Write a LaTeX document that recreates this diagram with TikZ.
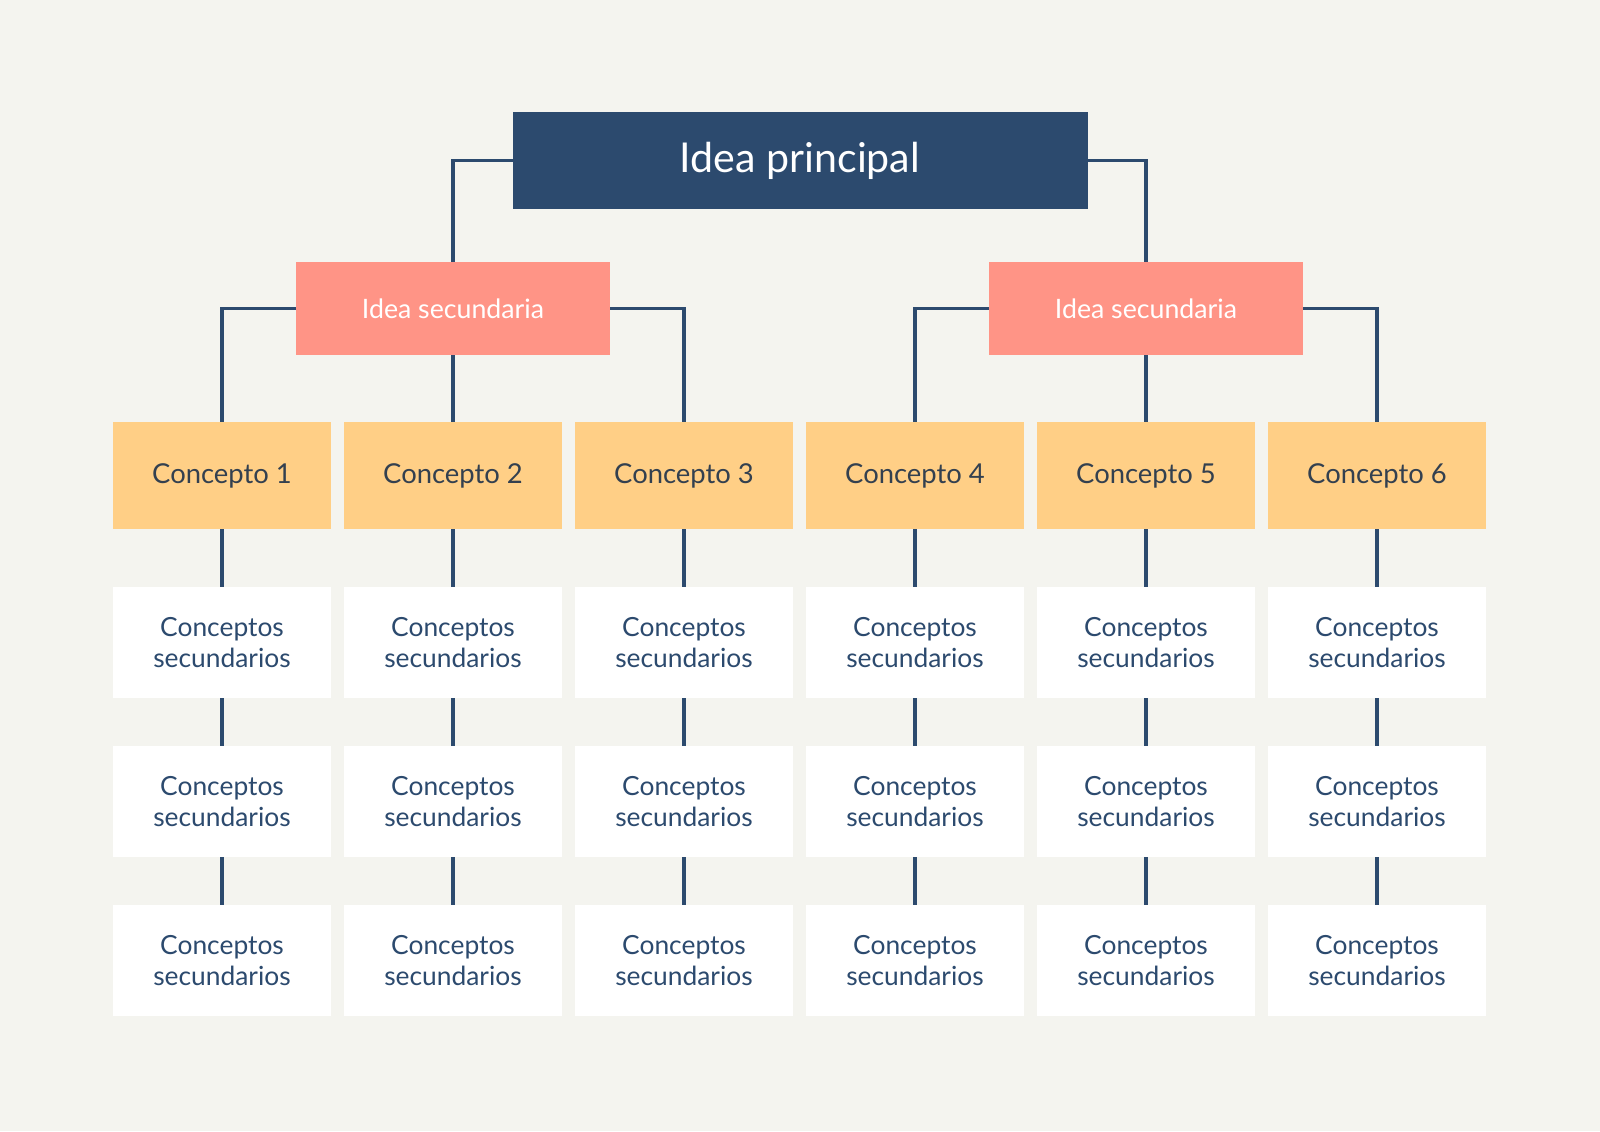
\documentclass[tikz,border=0pt]{standalone}
\usepackage{fontspec}
\setmainfont{Lato}
\usetikzlibrary{positioning}
\definecolor{fondo}{HTML}{F4F4EF}
\definecolor{marino}{HTML}{2C4A6E}
\definecolor{salmon}{HTML}{FF9486}
\definecolor{mostaza}{HTML}{FFCF86}
\definecolor{tinta}{HTML}{33404F}
\tikzstyle{principal} = [rectangle, minimum width=5.75cm, minimum height=0.97cm, inner sep=0pt, outer sep=0pt, fill=marino, text=white, font=\fontsize{11.7}{13}\selectfont]
\tikzstyle{idea} = [rectangle, minimum width=3.14cm, minimum height=0.93cm, inner sep=0pt, outer sep=0pt, fill=salmon, text=white, font=\fontsize{7.6}{9}\selectfont]
\tikzstyle{concepto} = [rectangle, minimum width=2.18cm, minimum height=1.07cm, inner sep=0pt, outer sep=0pt, fill=mostaza, text=tinta, font=\fontsize{7.8}{9}\selectfont]
\tikzstyle{secundario} = [rectangle, minimum width=2.18cm, minimum height=1.11cm, inner sep=0pt, outer sep=0pt, fill=white, text=marino, align=center, font=\fontsize{7.5}{8.8}\selectfont]
\tikzstyle{line} = [marino, line width=0.9pt]

\begin{document}
\begin{tikzpicture}
  \fill [fondo] (0,0) rectangle (16,-11.31);
  \useasboundingbox (0,0) rectangle (16,-11.31);

  \node (main) [principal] at (8,-1.605) {Idea principal};
  \node (c1) [concepto] at (2.22,-4.755) {Concepto 1};
  \node (c2) [concepto, right=0.13cm of c1] {Concepto 2};
  \node (c3) [concepto, right=0.13cm of c2] {Concepto 3};
  \node (c4) [concepto, right=0.13cm of c3] {Concepto 4};
  \node (c5) [concepto, right=0.13cm of c4] {Concepto 5};
  \node (c6) [concepto, right=0.13cm of c5] {Concepto 6};
  \node (ideaA) [idea, above=0.67cm of c2] {Idea secundaria};
  \node (ideaB) [idea, above=0.67cm of c5] {Idea secundaria};

  \draw [line] (main.west) -| (ideaA.north);
  \draw [line] (main.east) -| (ideaB.north);
  \draw [line] (ideaA.west) -| (c1.north);
  \draw [line] (ideaA.south) -- (c2.north);
  \draw [line] (ideaA.east) -| (c3.north);
  \draw [line] (ideaB.west) -| (c4.north);
  \draw [line] (ideaB.south) -- (c5.north);
  \draw [line] (ideaB.east) -| (c6.north);

  % three rows of secondary concepts under each concept
  \foreach \c in {1,...,6} {
    \node (sa\c) [secundario, below=0.58cm of c\c] {Conceptos\\secundarios};
    \node (sb\c) [secundario, below=0.48cm of sa\c] {Conceptos\\secundarios};
    \node (sc\c) [secundario, below=0.48cm of sb\c] {Conceptos\\secundarios};
    \draw [line] (c\c.south) -- (sa\c.north);
    \draw [line] (sa\c.south) -- (sb\c.north);
    \draw [line] (sb\c.south) -- (sc\c.north);
  }
\end{tikzpicture}
\end{document}
